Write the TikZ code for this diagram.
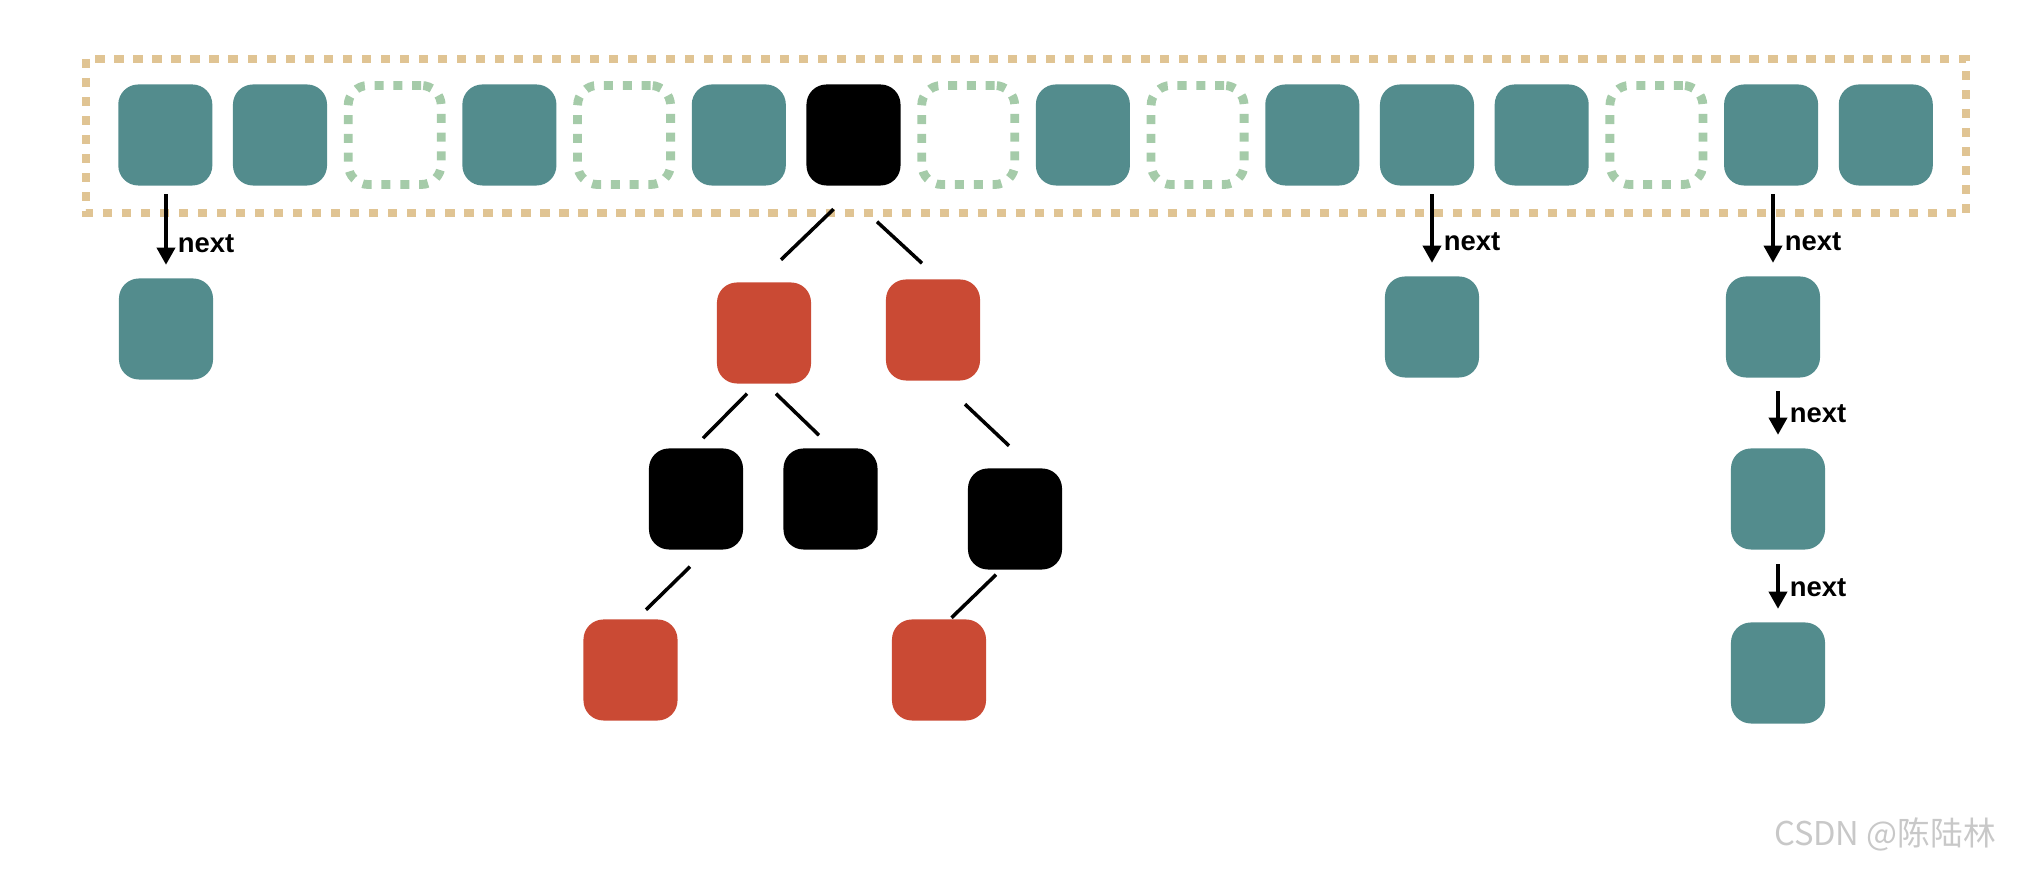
\documentclass[tikz,border=0pt]{standalone}
\usepackage{fontspec}
\setmainfont{Liberation Sans}
\newfontfamily\hmcjk{Noto Sans CJK SC}
\usepackage{tikz}
\usetikzlibrary{arrows.meta,calc}
\definecolor{hmteal}{RGB}{83,140,141}
\definecolor{hmred}{RGB}{202,74,52}
\definecolor{hmsand}{RGB}{224,196,147}
\definecolor{hmmint}{RGB}{165,203,169}
\definecolor{hmwater}{RGB}{200,200,200}
\tikzset{
  hmslot/.style={fill=hmteal, rounded corners=0.2cm, minimum width=0.94cm, minimum height=1.01cm, inner sep=0pt},
  hmgap/.style={draw=hmmint, line width=0.088cm, dash pattern=on 0.09cm off 0.098cm, rounded corners=0.2cm, minimum width=0.93cm, minimum height=0.99cm, inner sep=0pt},
  hmrbblack/.style={fill=black, rounded corners=0.2cm, minimum width=0.94cm, minimum height=1.01cm, inner sep=0pt},
  hmrbred/.style={fill=hmred, rounded corners=0.2cm, minimum width=0.94cm, minimum height=1.01cm, inner sep=0pt},
  hmtable/.style={draw=hmsand, line width=0.08cm, dash pattern=on 0.092cm off 0.098cm},
  hmarr/.style={-{Triangle[length=0.17cm,width=0.18cm]}, line width=0.035cm},
  hmedge/.style={line width=0.035cm},
  hmnext/.style={pos=1, anchor=base west, xshift=0.1cm, yshift=0.125cm, inner sep=0pt, font=\fontsize{7.8}{9}\selectfont\bfseries}
}

\begin{document}
\begin{tikzpicture}[x=0.01cm, y=-0.01cm]
  \useasboundingbox (0,0) rectangle (2041,871);

  % bucket array
  \draw[hmtable] (86,59) rectangle (1966,213);
  \node[hmslot] (t1) at (165.3,135) {};
  \node[hmslot] (t2) at (280.0,135) {};
  \node[hmgap] (t3) at (394.7,135) {};
  \node[hmslot] (t4) at (509.4,135) {};
  \node[hmgap] (t5) at (624.1,135) {};
  \node[hmslot] (t6) at (738.8,135) {};
  \node[hmrbblack] (t7) at (853.5,135) {};
  \node[hmgap] (t8) at (968.2,135) {};
  \node[hmslot] (t9) at (1082.9,135) {};
  \node[hmgap] (t10) at (1197.6,135) {};
  \node[hmslot] (t11) at (1312.3,135) {};
  \node[hmslot] (t12) at (1427.0,135) {};
  \node[hmslot] (t13) at (1541.7,135) {};
  \node[hmgap] (t14) at (1656.4,135) {};
  \node[hmslot] (t15) at (1771.1,135) {};
  \node[hmslot] (t16) at (1885.8,135) {};

  % linked lists
  \node[hmslot] (b1) at (166,329) {};
  \node[hmslot] (b12) at (1432,327) {};
  \node[hmslot] (c1) at (1773,327) {};
  \node[hmslot] (c2) at (1778,499) {};
  \node[hmslot] (c3) at (1778,673) {};
  \draw[hmarr] ($(t1.south -| b1.north)+(0,8)$) -- ($(b1.north)+(0,-13)$) node[hmnext] {next};
  \draw[hmarr] ($(t12.south -| b12.north)+(0,8)$) -- ($(b12.north)+(0,-13)$) node[hmnext] {next};
  \draw[hmarr] ($(t15.south -| c1.north)+(0,8)$) -- ($(c1.north)+(0,-13)$) node[hmnext] {next};
  \draw[hmarr] ($(c1.south -| c2.north)+(0,13)$) -- ($(c2.north)+(0,-13)$) node[hmnext] {next};
  \draw[hmarr] ($(c2.south)+(0,14)$) -- ($(c3.north)+(0,-13)$) node[hmnext] {next};

  % red-black tree
  \node[hmrbred] (r1) at (764,333) {};
  \node[hmrbred] (r2) at (933,330) {};
  \node[hmrbblack] (r3) at (696,499) {};
  \node[hmrbblack] (r4) at (830.5,499) {};
  \node[hmrbblack] (r5) at (1015,519) {};
  \node[hmrbred] (r6) at (630.5,670) {};
  \node[hmrbred] (r7) at (939,670) {};
  \draw[hmedge] ([shift={(-20,23)}]t7.south) -- ([shift={(17,-22)}]r1.north);
  \draw[hmedge] ([shift={(23.5,35.5)}]t7.south) -- ([shift={(-11,-15.5)}]r2.north);
  \draw[hmedge] ([shift={(-17,9.5)}]r1.south) -- ([shift={(7,-9.5)}]r3.north);
  \draw[hmedge] ([shift={(12,9.5)}]r1.south) -- ([shift={(-11.5,-12.5)}]r4.north);
  \draw[hmedge] ([shift={(32,23)}]r2.south) -- ([shift={(-6,-22)}]r5.north);
  \draw[hmedge] ([shift={(-6,16.5)}]r3.south) -- ([shift={(15.5,-9)}]r6.north);
  \draw[hmedge] ([shift={(-19,4.5)}]r5.south) -- ([shift={(12.5,-1)}]r7.north);

  \node[text=hmwater, font=\hmcjk\fontsize{9.3}{11}\selectfont] (mark) at (1885,834) {CSDN @陈陆林};
\end{tikzpicture}
\end{document}
